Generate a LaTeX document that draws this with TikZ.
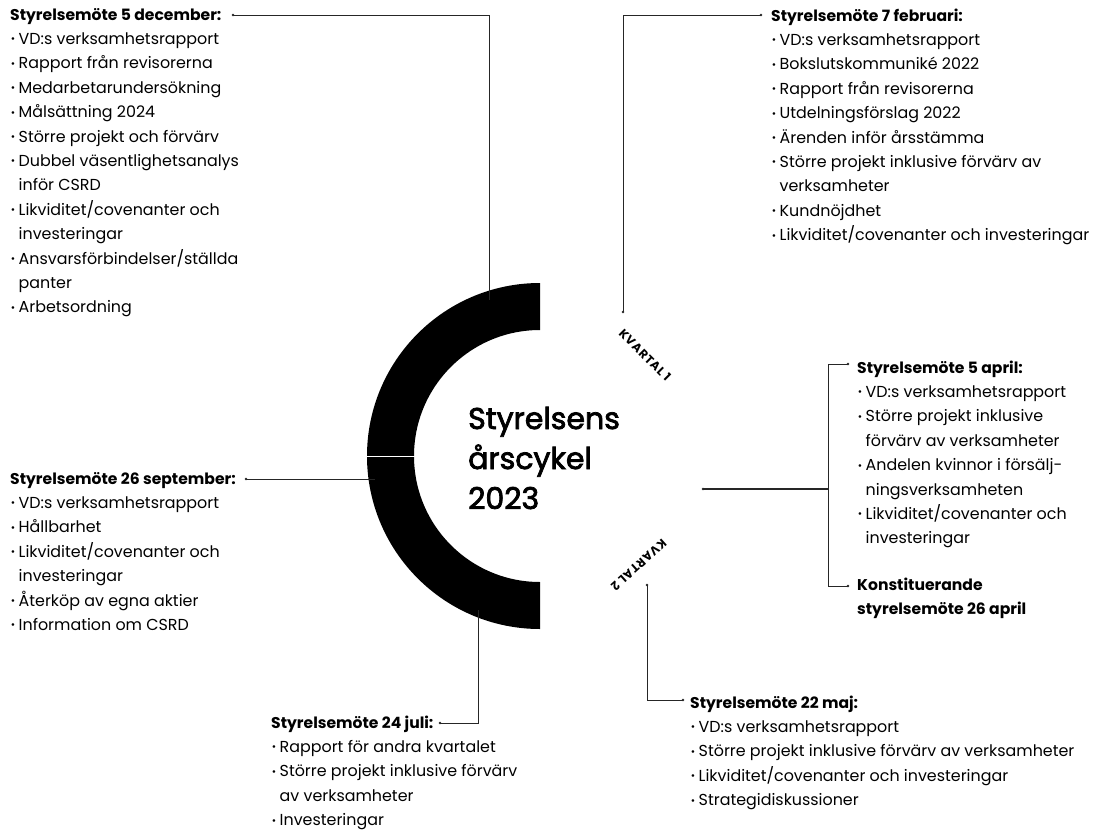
\documentclass[tikz,border=0pt]{standalone}
\usepackage{fontspec}
\setmainfont{Poppins}
\newfontfamily\kvfont[LetterSpace=6]{Poppins}
\newfontfamily\titlefont[FakeBold=2.5]{Poppins}
\newcommand\bl{\makebox[8.5pt][l]{\hspace{0.6pt}\raisebox{1.6pt}{\fontsize{10.5}{10.5}\selectfont •}}}
\newcommand\ind{\hspace*{8.5pt}}
\newcommand\hd[1]{{\fontsize{15.6}{24.4}\selectfont\bfseries #1}}
\tikzset{
  block/.style={anchor=base west, align=left, inner sep=0pt, font=\fontsize{15.9}{24.4}\selectfont},
  title/.style={anchor=base west, align=left, inner sep=0pt, font=\titlefont\fontsize{30}{40}\selectfont},
  kv/.style={inner sep=0pt, font=\kvfont\bfseries\fontsize{12}{12}\selectfont},
  conn/.style={draw=black!85, line width=0.9pt},
  enddot/.style={circle, fill=black!85, inner sep=0pt, minimum size=2.6pt},
}
\begin{document}
\begin{tikzpicture}[x=1pt,y=-1pt]
\useasboundingbox (0,0) rectangle (1096,830);
\fill[white] (0,0) rectangle (1096,830);
% ring
\coordinate (C) at (540,456);
\fill[black] (540,283) arc[start angle=-90, end angle=-270, radius=173]
  -- (540,582) arc[start angle=-270, end angle=-90, radius=126] -- cycle;
\draw[white, line width=1pt] (366,456) -- (415,456);
% title (anchor at baseline of last line)
\node[title] (title) at (468,509) {Styrelsens\\årscykel\\2023};
% quarter labels
\node[kv, rotate=-45] (kv1) at (645,355) {KVARTAL 1};
\node[kv, rotate=-138] (kv2) at (639,565) {KVARTAL 2};

% text blocks (anchored at the baseline of their last line)
\node[block] (dec) at (10,312.8) {\hd{Styrelsemöte 5 december:}\\
\bl VD:s verksamhetsrapport\\
\bl Rapport från revisorerna\\
\bl Medarbetarundersökning\\
\bl Målsättning 2024\\
\bl Större projekt och förvärv\\
\bl Dubbel väsentlighetsanalys\\
\ind inför CSRD\\
\bl Likviditet/covenanter och\\
\ind investeringar\\
\bl Ansvarsförbindelser/ställda\\
\ind panter\\
\bl Arbetsordning};

\node[block] (feb) at (771,240.6) {\hd{Styrelsemöte 7 februari:}\\
\bl VD:s verksamhetsrapport\\
\bl Bokslutskommuniké 2022\\
\bl Rapport från revisorerna\\
\bl Utdelningsförslag 2022\\
\bl Ärenden inför årsstämma\\
\bl Större projekt inklusive förvärv av\\
\ind verksamheter\\
\bl Kundnöjdhet\\
\bl Likviditet/covenanter och investeringar};

\node[block] (apr) at (857,543.8) {\hd{Styrelsemöte 5 april:}\\
\bl VD:s verksamhetsrapport\\
\bl Större projekt inklusive\\
\ind förvärv av verksamheter\\
\bl Andelen kvinnor i försälj-\\
\ind ningsverksamheten\\
\bl Likviditet/covenanter och\\
\ind investeringar};

\node[block] (konst) at (857,614.4) {\hd{Konstituerande}\\
\hd{styrelsemöte 26 april}};

\node[block] (sep) at (10,630.4) {\hd{Styrelsemöte 26 september:}\\
\bl VD:s verksamhetsrapport\\
\bl Hållbarhet\\
\bl Likviditet/covenanter och\\
\ind investeringar\\
\bl Återköp av egna aktier\\
\bl Information om CSRD};

\node[block] (jul) at (271,825.6) {\hd{Styrelsemöte 24 juli:}\\
\bl Rapport för andra kvartalet\\
\bl Större projekt inklusive förvärv\\
\ind av verksamheter\\
\bl Investeringar};

\node[block] (maj) at (690,805.6) {\hd{Styrelsemöte 22 maj:}\\
\bl VD:s verksamhetsrapport\\
\bl Större projekt inklusive förvärv av verksamheter\\
\bl Likviditet/covenanter och investeringar\\
\bl Strategidiskussioner};

% connector coordinates
\coordinate (decS) at (233,15);
\coordinate (decK) at (489,15);
\coordinate (decR) at (489,300);
\coordinate (febR) at (623,312);
\coordinate (febK) at (623,15);
\coordinate (febE) at (761,15);
\coordinate (aprR) at (703,489);
\coordinate (aprM) at (828,489);
\coordinate (aprT) at (828,364);
\coordinate (aprTE) at (848,364);
\coordinate (aprB) at (828,586);
\coordinate (aprBE) at (848,586);
\coordinate (sepS) at (246,479);
\coordinate (sepR) at (375,479);
\coordinate (julS) at (440,723);
\coordinate (julK) at (478,723);
\coordinate (julR) at (478,610);
\coordinate (majR) at (647,585);
\coordinate (majK) at (647,700);
\coordinate (majE) at (683,700);

\draw[conn] (decS) -- (decK) -- (decR);
\draw[conn] (febR) -- (febK) -- (febE);
\draw[conn, line width=1.2pt] (aprR) -- (aprM);
\draw[conn] (aprTE) -- (aprT) -- (aprB) -- (aprBE);
\draw[conn] (sepS) -- (sepR);
\draw[conn] (julS) -- (julK) -- (julR);
\draw[conn] (majR) -- (majK) -- (majE);
\foreach \p in {decS,febR,febE,aprR,aprTE,aprBE,sepS,julS,majR,majE}
  \node[enddot] at (\p) {};
\end{tikzpicture}
\end{document}
